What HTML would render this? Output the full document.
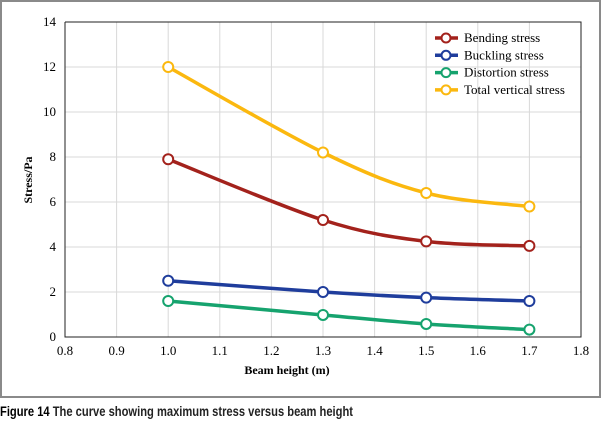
<!DOCTYPE html>
<html><head><meta charset="utf-8"><style>
body{margin:0;background:#fff;width:602px;height:421px;overflow:hidden}
svg text{font-family:"Liberation Serif",serif}
</style></head><body>
<svg width="602" height="421">
<rect x="1" y="1" width="599" height="396" fill="#fff" stroke="#8a8a8a" stroke-width="2"/>
<g id="grid"></g>
<g id="axes"></g>
<g id="series"></g>
<g id="legend"></g>
<text x="287" y="374" font-size="12" font-weight="bold" text-anchor="middle">Beam height (m)</text>
<text transform="translate(32,180) rotate(-90)" font-size="12" font-weight="bold" text-anchor="middle">Stress/Pa</text>
<text x="0" y="416" font-size="14" textLength="353" lengthAdjust="spacingAndGlyphs" font-weight="bold" style="font-family:'Liberation Sans',sans-serif"><tspan font-weight="bold">Figure 14</tspan> <tspan fill="#222">The curve showing maximum stress versus beam height</tspan></text>
</svg>
<script>
const xCats=[1.0,1.3,1.5,1.7];
const bending=[7.9,5.2,4.25,4.05];
const buckling=[2.5,2.0,1.75,1.6];
const distortion=[1.6,0.98,0.58,0.33];
const total=[12,8.2,6.4,5.8];
const xTicks=[0.8,0.9,1.0,1.1,1.2,1.3,1.4,1.5,1.6,1.7,1.8];
const yTicks=[0,2,4,6,8,10,12,14];
const names=["Bending stress","Buckling stress","Distortion stress","Total vertical stress"];
const NS="http://www.w3.org/2000/svg";
const X0=65,X1=581,Y0=337,Y1=22;
const sx=v=>X0+(v-0.8)/(1.0)*(X1-X0);
const sy=v=>Y0-v/14*(Y0-Y1);
function mk(t,a,p){const e=document.createElementNS(NS,t);for(const k in a)e.setAttribute(k,a[k]);p.appendChild(e);return e;}
const g=document.getElementById('grid'),ax=document.getElementById('axes');
xTicks.forEach(t=>{if(t>0.85){const l=mk('line',{x1:sx(t),x2:sx(t),y1:Y1,y2:Y0,stroke:'#d8d8d8'},g);

}
const tx=mk('text',{x:sx(t),y:Y0+18,'font-size':13,'text-anchor':'middle'},ax);tx.textContent=t.toFixed(1);

});
yTicks.forEach(t=>{if(t>0){const l=mk('line',{x1:X0,x2:X1,y1:sy(t),y2:sy(t),stroke:'#d8d8d8'},g);

}
const tx=mk('text',{x:X0-9,y:sy(t)+4,'font-size':13,'text-anchor':'end'},ax);tx.textContent=t;

});
mk('path',{d:`M${X0},${Y1}V${Y0}H${X1}V${Y1}H${X0}`,fill:'none',stroke:'#222','stroke-width':1},ax);
const series=[bending,buckling,distortion,total];
const cols=['#a3221c','#1f3d9c','#16a36e','#fbb80f'];
const s=document.getElementById('series');
function curve(pts){let d=`M${pts[0][0]},${pts[0][1]}`;
for(let i=0;i<pts.length-1;i++){const p0=pts[i-1]||pts[i],p1=pts[i],p2=pts[i+1],p3=pts[i+2]||p2;
const c1=[p1[0]+(p2[0]-p0[0])/6,p1[1]+(p2[1]-p0[1])/6],c2=[p2[0]-(p3[0]-p1[0])/6,p2[1]-(p3[1]-p1[1])/6];
d+=`C${c1[0]},${c1[1]} ${c2[0]},${c2[1]} ${p2[0]},${p2[1]}`;}return d;}
series.forEach((vals,k)=>{const pts=vals.map((v,i)=>[sx(xCats[i]),sy(v)]);
const p=mk('path',{d:curve(pts),fill:'none',stroke:cols[k],'stroke-width':3.5},s);


pts.forEach(q=>{const c=mk('circle',{cx:q[0],cy:q[1],r:5,fill:'#fff',stroke:cols[k],'stroke-width':2},s);

});});
const lg=document.getElementById('legend');
names.forEach((n,k)=>{const y=38+k*17.3;
const l=mk('line',{x1:435,x2:458,y1:y,y2:y,stroke:cols[k],'stroke-width':3.5},lg);


mk('circle',{cx:446,cy:y,r:4.5,fill:'#fff',stroke:cols[k],'stroke-width':2},lg);
const t=mk('text',{x:464,y:y+4,'font-size':13},lg);t.textContent=n;

});
</script>
</body></html>
